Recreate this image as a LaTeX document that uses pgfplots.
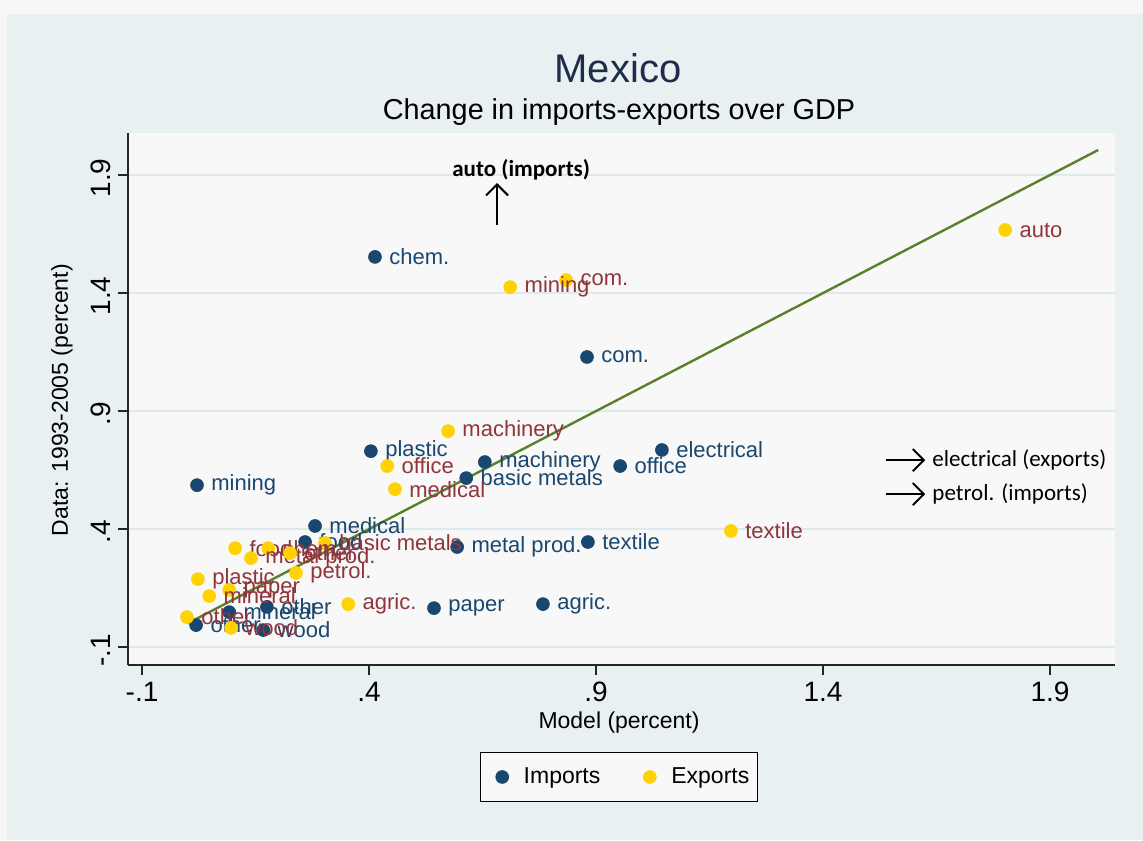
\documentclass[border=0pt]{standalone}
\usepackage{pgfplots}
\pgfplotsset{compat=1.18}
\usepackage{pgfplotstable}
\usepackage{fontspec}
\setmainfont{Liberation Sans}
\newfontfamily\calib{Carlito}
\usetikzlibrary{arrows.meta}
\definecolor{stnavy}{HTML}{1A476F}
\definecolor{stgold}{HTML}{FFD200}
\definecolor{stmaroon}{HTML}{90353B}
\definecolor{stgreen}{HTML}{5A802A}
\definecolor{bgblue}{HTML}{E8F0F1}
\definecolor{plotbg}{HTML}{F8F8F8}
\definecolor{outerw}{HTML}{F7F7F7}
\definecolor{gridc}{HTML}{DDE9EC}
\definecolor{titlec}{HTML}{1F2D4A}

\pgfplotstableread[col sep=comma]{
x,y,label
0.413,1.553,chem.
0.880,1.129,com.
1.045,0.735,electrical
0.953,0.667,office
0.404,0.730,plastic
0.655,0.684,machinery
0.614,0.616,basic metals
0.021,0.586,mining
0.281,0.413,medical
0.882,0.345,textile
0.594,0.324,metal prod.
0.543,0.065,paper
0.783,0.082,agric.
0.259,0.345,food
0.175,0.070,other
0.092,0.048,mineral
0.167,-0.028,wood
0.019,-0.007,other
}\imports

\pgfplotstableread[col sep=comma]{
x,y,label
1.801,1.667,auto
0.834,1.455,com.
0.711,1.425,mining
0.574,0.815,machinery
0.440,0.667,office
0.457,0.569,medical
1.197,0.392,textile
0.303,0.341,basic metals
0.105,0.319,food
0.178,0.319,chem.
0.140,0.277,metal prod.
0.226,0.298,other
0.239,0.214,petrol.
0.023,0.188,plastic
0.092,0.142,paper
0.048,0.116,mineral
0.354,0.082,agric.
-0.001,0.027,other
0.096,-0.019,wood
}\exports

\begin{document}
\begin{tikzpicture}
\fill[outerw] (-64pt,-87.5pt) rectangle (507.5pt,332.5pt);
\fill[bgblue] (-60.5pt,-87.5pt) rectangle (507.5pt,325.5pt);
\node[text=titlec, font=\fontsize{20}{22}\selectfont] at (245pt,298.5pt) {Mexico};
\node[text=black, font=\fontsize{14.4}{16}\selectfont] at (245.5pt,276.5pt) {Change in imports-exports over GDP};
\begin{axis}[
  at={(0pt,0pt)}, anchor=south west,
  scale only axis, width=493.5pt, height=266pt,
  xmin=-0.131, xmax=2.043, ymin=-0.176, ymax=2.078,
  clip=false,
  axis background/.style={fill=plotbg},
  axis x line*=bottom, axis y line*=left,
  axis line style={black!85, line width=0.6pt},
  tick align=outside, major tick length=5pt,
  tick style={black!85, line width=0.6pt},
  xtick={-0.1,0.4,0.9,1.4,1.9}, xticklabels={-.1,.4,.9,1.4,1.9},
  ytick={-0.1,0.4,0.9,1.4,1.9}, yticklabels={-.1,.4,.9,1.4,1.9},
  ymajorgrids, grid style={gridc, line width=0.9pt},
  xticklabel style={font=\fontsize{14}{14}\selectfont},
  yticklabel style={rotate=90, anchor=south, xshift=-1.5pt, font=\fontsize{14}{14}\selectfont},
  xlabel={Model (percent)}, ylabel={Data: 1993-2005 (percent)},
  xlabel style={at={(axis description cs:0.4975,-0.109)}, anchor=center, font=\fontsize{11.5}{12}\selectfont},
  ylabel style={at={(axis description cs:-0.0669,0.498)}, anchor=center, rotate=0, font=\fontsize{11.5}{12}\selectfont},
  legend columns=2,
  legend style={at={(axis description cs:0.4975,-0.2105)}, anchor=center, draw=black, fill=plotbg,
    font=\fontsize{11.5}{12}\selectfont, inner xsep=2pt, inner ysep=5.5pt,
    /tikz/every even column/.append style={column sep=14pt}},
  legend image code/.code={\path (0cm,0cm) (0.6cm,0cm); \draw[mark repeat=2,mark phase=2,#1] plot coordinates {(0cm,0cm) (0.3cm,0cm) (0.6cm,0cm)};},
]
\addplot[only marks, mark=*, mark size=3.2pt, mark options={draw=stnavy, fill=stnavy},
  nodes near coords, point meta=explicit symbolic,
  every node near coord/.style={anchor=west, inner sep=0pt, xshift=7pt, text=stnavy, font=\fontsize{11}{11}\selectfont}]
  table[x=x, y=y, meta=label] {\imports};
\addlegendentry{Imports}
\addplot[only marks, mark=*, mark size=3.2pt, mark options={draw=stgold, fill=stgold},
  nodes near coords, point meta=explicit symbolic,
  every node near coord/.style={anchor=west, inner sep=0pt, xshift=7pt, text=stmaroon, font=\fontsize{11}{11}\selectfont}]
  table[x=x, y=y, meta=label] {\exports};
\addlegendentry{Exports}
\addplot[stgreen, line width=1.2pt, forget plot] coordinates {(0,0) (2.006,2.006)};
\draw[-{Straight Barb[length=5.5pt, width=11pt, line width=1pt]}, line width=1pt] (axis cs:0.682,1.688) -- (axis cs:0.682,1.866);
\node[font=\calib\bfseries\fontsize{11.5}{12}\selectfont] at (axis cs:0.735,1.921) {auto (imports)};
\draw[-{Straight Barb[length=5.5pt, width=11pt, line width=1pt]}, line width=1pt] (axis cs:1.539,0.692) -- (axis cs:1.625,0.692);
\node[anchor=west, inner sep=0pt, font=\calib\fontsize{11.5}{12}\selectfont] at (axis cs:1.640,0.692) {electrical (exports)};
\draw[-{Straight Barb[length=5.5pt, width=11pt, line width=1pt]}, line width=1pt] (axis cs:1.539,0.548) -- (axis cs:1.625,0.548);
\node[anchor=west, inner sep=0pt, font=\calib\fontsize{11.5}{12}\selectfont] at (axis cs:1.640,0.548) {petrol. (imports)};
\end{axis}
\end{tikzpicture}
\end{document}
